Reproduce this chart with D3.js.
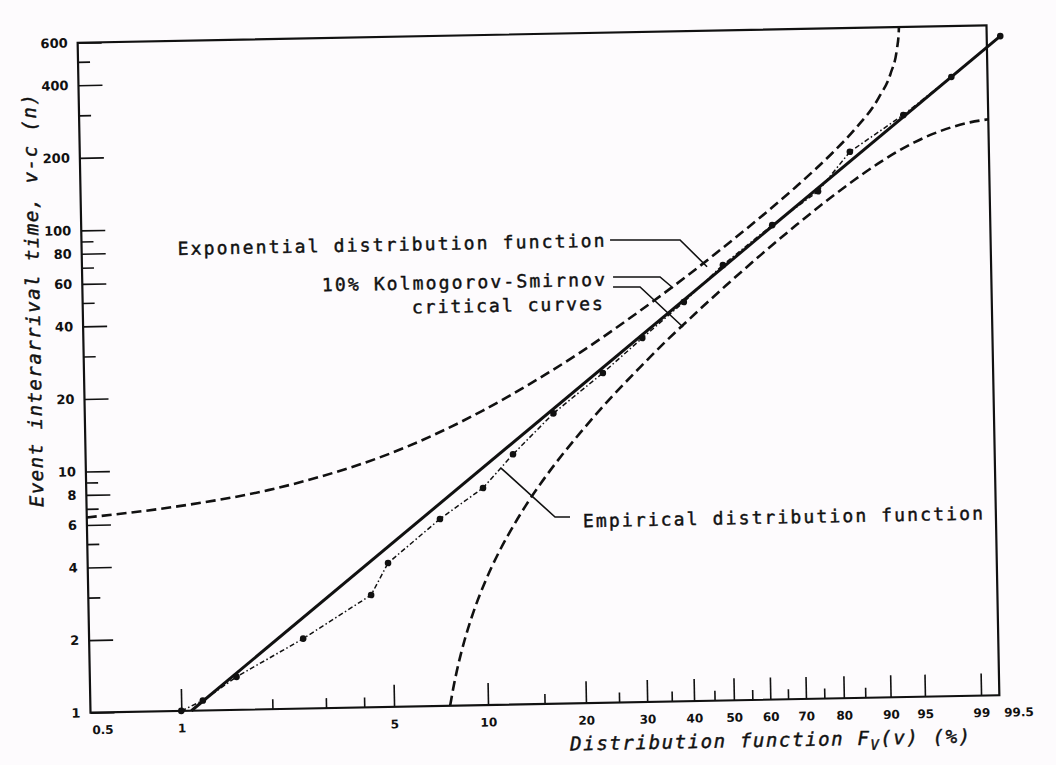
<!DOCTYPE html>
<html>
<head>
<meta charset="utf-8">
<script src="https://cdn.jsdelivr.net/npm/d3@7"></script>
<style>
  html, body { margin: 0; padding: 0; background: #fdfbfd; }
  svg { display: block; }
  .lbl { font-family: "DejaVu Sans Mono", monospace; fill: #111; stroke: #111; stroke-width: 0.45px; }
  .tick text { font-family: "DejaVu Sans", sans-serif; font-weight: bold; fill: #111; }
</style>
</head>
<body>
<svg id="chart" width="1056" height="765"></svg>
<script>
// Probability-paper axes: distribution function F (%) on the exponential scale
const fMajor = [1, 5, 10, 20, 30, 40, 50, 60, 70, 80, 90, 95, 99];
const fMinor = [2, 3, 4, 15, 25, 35, 45, 55, 65, 75, 85];
const fEdge = [0.5, 99.5];
const vMajor = [1, 2, 4, 6, 8, 10, 20, 40, 60, 80, 100, 200, 400, 600];
const vMinor = [3, 5, 7, 9, 30, 50, 70, 90, 300, 500];

// Empirical distribution function (F in %, interarrival time v-c in n)
const empF = [1.0, 1.18, 1.53, 2.55, 4.28, 4.88, 7.22, 9.94, 12.4, 16.6, 23.4, 30.4, 39.4, 49.3, 63.1, 75.9, 83.9, 93.7, 98.2, 99.72];
const empV = [1.0, 1.10, 1.37, 1.95, 2.92, 3.95, 5.96, 7.95, 10.9, 16.0, 23.3, 32.3, 45.2, 63.9, 92.7, 127, 184, 259, 369, 540];

// Fitted exponential distribution function (straight line on this paper)
const expF = [1.08, 99.72];
const expV = [1.0, 540];

// 10% Kolmogorov-Smirnov critical curves
const ksUpF = [0.5, 1, 2, 3, 5, 10, 15, 20, 30, 40, 50, 60, 70, 80, 85, 90, 92, 93, 93.3, 93.45];
const ksUpV = [6.45, 7.05, 8.1, 9.15, 11.2, 16.6, 22.3, 28.3, 41.8, 57.5, 76.6, 100.6, 133.2, 184.2, 226.8, 308.4, 386.4, 487, 572, 699];
const ksLoF = [7.58, 7.8, 8, 8.5, 9, 10, 11, 12, 13.5, 15, 17.5, 20, 25, 30, 35, 40, 45, 50, 60, 70, 80, 85, 90, 95, 99, 99.5];
const ksLoV = [1.0, 1.204, 1.39, 1.859, 2.33, 3.28, 4.24, 5.20, 6.68, 8.17, 10.7, 13.3, 18.8, 24.6, 30.9, 37.5, 44.7, 52.5, 70.4, 92.7, 122.2, 141.4, 165.8, 199, 238.3, 244.6];

const frameL = 84, frameR = 993, frameT = 34, frameB = 704;
const ink = "#111";

const svg = d3.select("#chart");
const g = svg.append("g").attr("transform", "rotate(-1.1, 538.5, 369)");

// x: log of -ln(1-F); y: log of time
const toU = F => -Math.log(1 - F / 100);
const x = d3.scaleLog().domain([toU(0.5), toU(99.5)]).range([frameL, frameR]);
const y = d3.scaleLog().domain([1, 600]).range([frameB, frameT]);
const px = F => x(toU(F));

const clip = g.append("clipPath").attr("id", "frame-clip");
clip.append("rect").attr("x", frameL).attr("y", frameT).attr("width", frameR - frameL).attr("height", frameB - frameT);

// Axes (ticks point into the plot)
const fmt = d => {
  const F = Math.round((1 - Math.exp(-d)) * 1000) / 10;
  return String(F);
};
function styleAxis(sel) {
  sel.select(".domain").remove();
  sel.selectAll(".tick line").attr("stroke", ink).attr("stroke-width", 1.6);
}
g.append("g").attr("transform", `translate(0,${frameB})`)
  .call(d3.axisBottom(x).tickValues(fMajor.map(toU)).tickFormat(fmt).tickSizeInner(-22).tickSizeOuter(0).tickPadding(13))
  .call(styleAxis)
  .selectAll("text").attr("font-size", 12);
g.append("g").attr("transform", `translate(0,${frameB})`)
  .call(d3.axisBottom(x).tickValues(fMinor.map(toU)).tickFormat("").tickSizeInner(-10).tickSizeOuter(0))
  .call(styleAxis);
g.append("g").attr("transform", `translate(0,${frameB})`)
  .call(d3.axisBottom(x).tickValues(fEdge.map(toU)).tickFormat(fmt).tickSizeInner(0).tickSizeOuter(0).tickPadding(13))
  .call(styleAxis)
  .selectAll("text").attr("font-size", 12).attr("text-anchor", "start").attr("dx", (d, i) => i === 0 ? 1 : 4);

g.append("g").attr("transform", `translate(${frameL},0)`)
  .call(d3.axisLeft(y).tickValues(vMajor).tickFormat(d3.format("d")).tickSizeInner(-24).tickSizeOuter(0).tickPadding(10))
  .call(styleAxis)
  .selectAll("text").attr("font-size", 13);
g.append("g").attr("transform", `translate(${frameL},0)`)
  .call(d3.axisLeft(y).tickValues(vMinor).tickFormat("").tickSizeInner(-12).tickSizeOuter(0))
  .call(styleAxis);

// Frame
g.append("rect").attr("x", frameL).attr("y", frameT).attr("width", frameR - frameL).attr("height", frameB - frameT)
  .attr("fill", "none").attr("stroke", ink).attr("stroke-width", 2.2);

const line = d3.line().x(d => px(d[0])).y(d => y(d[1])).curve(d3.curveMonotoneX);

// Critical curves
[[ksUpF, ksUpV], [ksLoF, ksLoV]].forEach(([fs, vs]) => {
  g.append("path").attr("clip-path", "url(#frame-clip)")
    .attr("d", line(d3.zip(fs, vs)))
    .attr("fill", "none").attr("stroke", ink).attr("stroke-width", 2.6)
    .attr("stroke-dasharray", "10,5");
});

// Exponential distribution function
g.append("path").attr("d", d3.line().x(d => px(d[0])).y(d => y(d[1]))(d3.zip(expF, expV)))
  .attr("fill", "none").attr("stroke", ink).attr("stroke-width", 3);

// Empirical distribution function
const emp = d3.zip(empF, empV);
g.append("path").attr("d", d3.line().x(d => px(d[0])).y(d => y(d[1]))(emp))
  .attr("fill", "none").attr("stroke", ink).attr("stroke-width", 1.5)
  .attr("stroke-dasharray", "5,2.5,1.5,2.5");
g.selectAll("circle.emp").data(emp).join("circle").attr("class", "emp")
  .attr("cx", d => px(d[0])).attr("cy", d => y(d[1])).attr("r", 3.3).attr("fill", ink);

// Axis titles
const xt = g.append("text").attr("class", "lbl").attr("x", 563).attr("y", 751)
  .attr("font-size", 19).attr("font-style", "italic")
  .attr("textLength", 400).attr("lengthAdjust", "spacing");
xt.append("tspan").text("Distribution function F");
xt.append("tspan").attr("font-size", 14).attr("dy", 5).text("V");
xt.append("tspan").attr("dy", -5).text("(v) (%)");

g.append("text").attr("class", "lbl")
  .attr("transform", "translate(41,291) rotate(-90)")
  .attr("text-anchor", "middle").attr("font-size", 19).attr("font-style", "italic")
  .attr("textLength", 413).attr("lengthAdjust", "spacing")
  .text("Event interarrival time, v-c (n)");

// Annotations with leader lines
const notes = [
  { text: "Exponential distribution function", x: 607, y: 248, len: 427, anchor: "end" },
  { text: "10% Kolmogorov-Smirnov", x: 606.6, y: 287, len: 283, anchor: "end" },
  { text: "critical curves", x: 604, y: 311, len: 191, anchor: "end" },
  { text: "Empirical distribution function", x: 580, y: 528, len: 400, anchor: "start" }
];
notes.forEach(n => {
  g.append("text").attr("class", "lbl").attr("x", n.x).attr("y", n.y)
    .attr("text-anchor", n.anchor).attr("font-size", 18)
    .attr("textLength", n.len).attr("lengthAdjust", "spacing").text(n.text);
});
const leaders = [
  [[612.5, 241.4], [682.5, 242.7], [709, 270]],
  [[614.8, 278.4], [661.8, 279.3], [674.6, 290.6]],
  [[614.6, 288.4], [641.6, 288.9], [683.8, 329.8]],
  [[567.2, 517.6], [552.2, 517.3], [499.1, 467.3]]
];
leaders.forEach(pts => {
  g.append("path").attr("d", d3.line()(pts))
    .attr("fill", "none").attr("stroke", ink).attr("stroke-width", 1.6);
});
</script>
</body>
</html>
